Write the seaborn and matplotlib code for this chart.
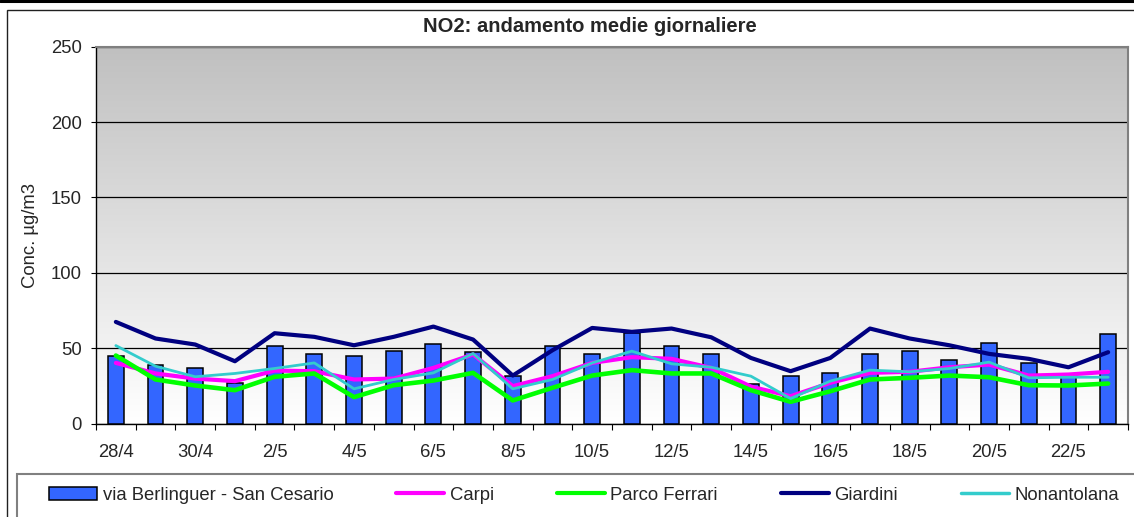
import matplotlib
matplotlib.use("Agg")
import matplotlib.pyplot as plt
import seaborn as sns
import numpy as np
from matplotlib.colors import LinearSegmentedColormap
from matplotlib.patches import Rectangle, Patch
from matplotlib.lines import Line2D

# dates 28/4 .. 23/5
days = ["28/4", "29/4", "30/4", "1/5", "2/5", "3/5", "4/5", "5/5", "6/5", "7/5",
        "8/5", "9/5", "10/5", "11/5", "12/5", "13/5", "14/5", "15/5", "16/5",
        "17/5", "18/5", "19/5", "20/5", "21/5", "22/5", "23/5"]

berlinguer = [44.6, 39, 36.9, 27, 51.7, 46.2, 44.6, 48.4, 52.8, 47.3,
              31.8, 51.3, 46.2, 60.1, 51.3, 45.8, 26.3, 31.8, 33.6, 45.8,
              48.4, 42.4, 53.5, 40.2, 32, 59.5]
carpi = [40.2, 33.2, 29.8, 28.1, 35.1, 34.7, 29.2, 29.8, 36.9, 45.8,
         24.8, 31.4, 40.2, 44.0, 42.9, 36.9, 24.5, 18.1, 27.0, 33.6,
         34.3, 37.3, 39.1, 31.8, 32.5, 34.3]
parco_ferrari = [45.1, 29.2, 25.2, 22.1, 31.0, 33.2, 17.5, 25.4, 28.5, 33.6,
                 15.3, 23.7, 31.8, 35.4, 33.2, 33.2, 22.1, 14.4, 21.4, 29.2,
                 30.3, 31.8, 30.7, 25.4, 25.2, 26.5]
giardini = [67.4, 56.4, 52.4, 41.3, 59.9, 57.5, 51.9, 57.5, 64.3, 55.7,
            31.8, 48.6, 63.4, 60.8, 63.0, 57.2, 43.5, 34.7, 43.5, 63.0,
            56.4, 51.9, 46.2, 42.9, 37.3, 47.3]
nonantolana = [51.7, 38.0, 31.0, 33.2, 36.5, 40.2, 23.0, 29.2, 33.6, 46.4,
               23.0, 29.2, 40.2, 48.0, 39.6, 37.3, 31.4, 16.6, 28.1, 35.4,
               34.3, 36.5, 40.7, 30.3, 30.7, 30.7]

sns.set_theme(style="white")
plt.rcParams["font.family"] = ["Liberation Sans", "DejaVu Sans"]
FS = 13.3

W, H = 1134, 517
fig = plt.figure(figsize=(W / 100, H / 100), dpi=100)
ax = fig.add_axes([96 / W, 1 - 423.5 / H, (1128 - 96) / W, (423.5 - 46.7) / H])

n = len(days)
pos = np.arange(n)

# background gradient, grey at the top to white at the bottom
cmap = LinearSegmentedColormap.from_list("bg", ["#C0C0C0", "#FFFFFF"])
ax.imshow(np.linspace(0, 1, 256)[:, None], extent=[-0.5, n - 0.5, 0, 250],
          aspect="auto", cmap=cmap, zorder=0)

sns.barplot(x=pos, y=berlinguer, color="#3366FF", edgecolor="black",
            linewidth=1.1, width=0.4, saturation=1, ax=ax, zorder=3,
            native_scale=True)

series = [
    ("Carpi", carpi, "#FF00FF", 3.0),
    ("Parco Ferrari", parco_ferrari, "#00FF00", 3.3),
    ("Giardini", giardini, "#000080", 3.0),
    ("Nonantolana", nonantolana, "#33CCCC", 2.0),
]
for name, vals, col, lw in series:
    sns.lineplot(x=pos, y=vals, color=col, lw=lw, ax=ax, zorder=4,
                 solid_capstyle="round")

ax.set_xlim(-0.5, n - 0.5)
ax.set_ylim(0, 250)
ax.set_yticks([0, 50, 100, 150, 200, 250])
ax.yaxis.grid(True, color="black", lw=0.9)
ax.set_axisbelow(True)
ax.set_xticks(pos[::2])
ax.set_xticklabels(days[::2])
ax.set_xticks(np.arange(-0.5, n, 1), minor=True)
ax.tick_params(axis="x", which="major", length=0, labelsize=FS, pad=15)
ax.tick_params(axis="x", which="minor", length=4.3, width=0.8, color="black",
               direction="out", bottom=True)
ax.tick_params(axis="y", length=3.6, width=0.8, color="black", direction="out",
               left=True, labelsize=FS, pad=6.4)
ax.set_xlabel("")
ax.set_ylabel("Conc. µg/m3", fontsize=FS, labelpad=9)
for s in ["left", "bottom"]:
    ax.spines[s].set_color("black")
    ax.spines[s].set_linewidth(1)
for s in ["top", "right"]:
    ax.spines[s].set_color("#808080")
    ax.spines[s].set_linewidth(1.5)

fig.text(590 / W, 1 - 27 / H, "NO2: andamento medie giornaliere",
         ha="center", va="center", fontsize=14.5, fontweight="bold")

# outer frames
fig.add_artist(Line2D([0, 1], [1 - 1 / H, 1 - 1 / H], transform=fig.transFigure,
                      color="black", lw=2.2))
fig.add_artist(Rectangle((7 / W, -0.2), 2, 1.2 - 10 / H, transform=fig.transFigure,
                         fill=False, edgecolor="#202020", lw=1))
fig.add_artist(Rectangle((17 / W, -0.2), 2, 1.2 - 473.5 / H, transform=fig.transFigure,
                         fill=False, edgecolor="#808080", lw=1.5))

handles = [Patch(facecolor="#3366FF", edgecolor="black", lw=1.1)]
labels = ["via Berlinguer - San Cesario"]
for name, vals, col, lw in series:
    handles.append(Line2D([], [], color=col, lw=3.0 if lw > 2.5 else 2.5,
                          solid_capstyle="round"))
    labels.append(name)
fig.legend(handles, labels, loc="center left", bbox_to_anchor=(49 / W, 1 - 495 / H),
           ncol=5, frameon=False, fontsize=FS, handlelength=2.6,
           handletextpad=0.3, columnspacing=3.4, borderpad=0, borderaxespad=0)

fig.savefig("out.png", dpi=100)
